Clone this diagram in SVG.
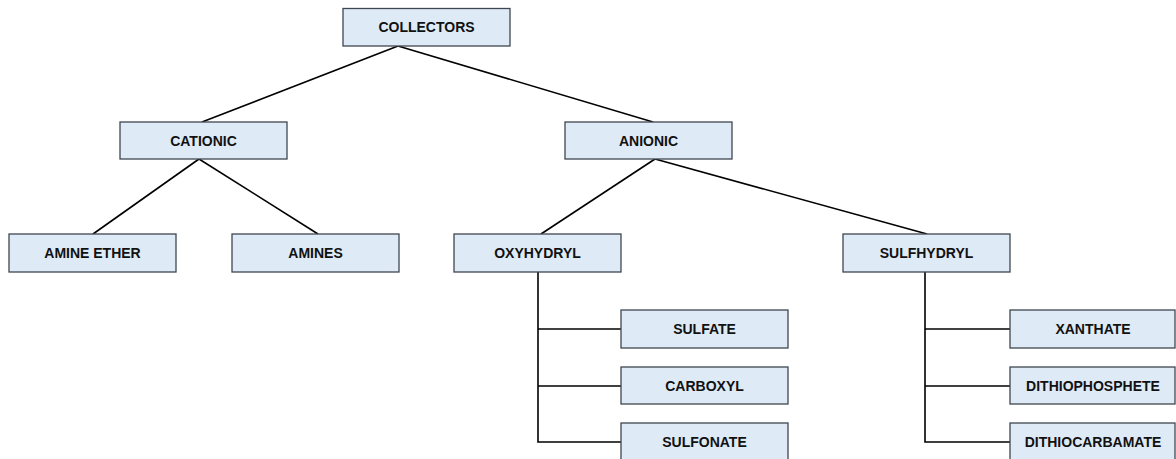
<svg xmlns="http://www.w3.org/2000/svg" width="1176" height="459" viewBox="0 0 1176 459">
<style>
.box{fill:#deebf7;stroke:#3f4650;stroke-width:1.3}
.lbl{font-family:"Liberation Sans",Arial,sans-serif;font-weight:bold;font-size:14px;fill:#111;text-anchor:middle}
.ln{stroke:#000;stroke-width:1.6;fill:none}
</style>
<rect width="1176" height="459" fill="#fff"/>
<g id="connectors">
<line class="ln" x1="398" y1="46" x2="202" y2="122"/>
<line class="ln" x1="398" y1="46" x2="653" y2="122"/>
<line class="ln" x1="199" y1="159" x2="93" y2="234"/>
<line class="ln" x1="199" y1="159" x2="318" y2="234"/>
<line class="ln" x1="655" y1="159" x2="541" y2="234"/>
<line class="ln" x1="655" y1="159" x2="927" y2="234"/>
<polyline class="ln" points="538,272 538,442 621,442"/>
<line class="ln" x1="538" y1="329" x2="621" y2="329"/>
<line class="ln" x1="538" y1="386" x2="621" y2="386"/>
<polyline class="ln" points="925,272 925,442 1010,442"/>
<line class="ln" x1="925" y1="329" x2="1010" y2="329"/>
<line class="ln" x1="925" y1="386" x2="1010" y2="386"/>
</g>
<g id="collectors"><rect class="box" x="343" y="8.5" width="167" height="37.5"/><text class="lbl" x="426.5" y="32">COLLECTORS</text></g>
<g id="cationic"><rect class="box" x="120" y="122" width="167" height="37"/><text class="lbl" x="203.5" y="145.5">CATIONIC</text></g>
<g id="anionic"><rect class="box" x="565" y="122" width="167" height="37"/><text class="lbl" x="648.5" y="145.5">ANIONIC</text></g>
<g id="amine-ether"><rect class="box" x="9" y="234" width="167" height="38"/><text class="lbl" x="92.5" y="258">AMINE ETHER</text></g>
<g id="amines"><rect class="box" x="232" y="234" width="167" height="38"/><text class="lbl" x="315.5" y="258">AMINES</text></g>
<g id="oxyhydryl"><rect class="box" x="454" y="234" width="167" height="38"/><text class="lbl" x="537.5" y="258">OXYHYDRYL</text></g>
<g id="sulfhydryl"><rect class="box" x="843" y="234" width="167" height="38"/><text class="lbl" x="926.5" y="258">SULFHYDRYL</text></g>
<g id="sulfate"><rect class="box" x="621" y="310" width="167" height="38"/><text class="lbl" x="704.5" y="334">SULFATE</text></g>
<g id="carboxyl"><rect class="box" x="621" y="367" width="167" height="37"/><text class="lbl" x="704.5" y="390.5">CARBOXYL</text></g>
<g id="sulfonate"><rect class="box" x="621" y="423" width="167" height="38"/><text class="lbl" x="704.5" y="447">SULFONATE</text></g>
<g id="xanthate"><rect class="box" x="1010" y="310" width="165" height="38"/><text class="lbl" x="1093" y="334">XANTHATE</text></g>
<g id="dithiophosphete"><rect class="box" x="1010" y="367" width="165" height="37"/><text class="lbl" x="1093" y="390.5">DITHIOPHOSPHETE</text></g>
<g id="dithiocarbamate"><rect class="box" x="1010" y="423" width="165" height="38"/><text class="lbl" x="1093" y="447">DITHIOCARBAMATE</text></g>
</svg>
